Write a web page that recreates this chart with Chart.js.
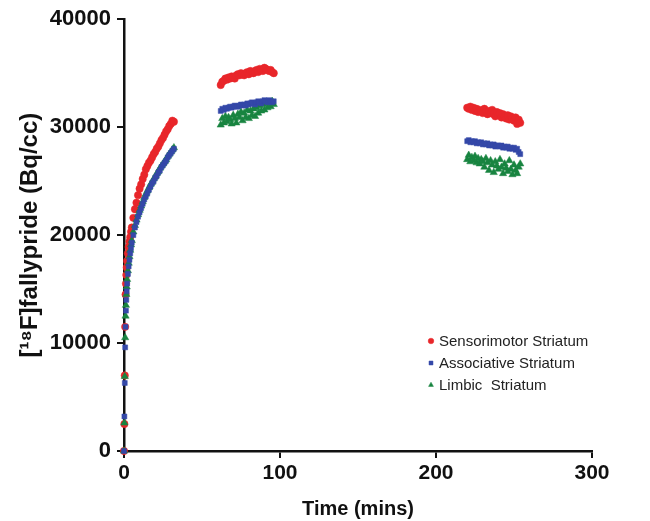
<!DOCTYPE html>
<html><head><meta charset="utf-8">
<script src="https://cdn.jsdelivr.net/npm/chart.js@4/dist/chart.umd.min.js"></script>
<style>html,body{margin:0;padding:0;background:#fff;}#wrap{width:650px;height:521px;}</style>
</head><body><div id="wrap"><canvas id="c" width="650" height="521"></canvas></div>
<script>
// ---- data (time in minutes, activity in Bq/cc) ----
const times = [
  0, 0.25, 0.5, 0.75, 1.0, 1.25, 1.5, 1.75, 2.0, 2.5, 3.0, 3.5, 4.0, 4.5, 5.0,
  6, 7, 8, 9, 10, 11, 12, 13, 14, 15, 16, 17, 18, 19, 20, 21, 22, 23, 24, 25, 26, 27, 28, 29, 30, 31, 32,
  62, 63, 64, 65, 66, 67, 68, 69, 70, 71, 72, 73, 74, 75, 76, 77, 78, 79, 80, 81, 82, 83, 84, 85, 86, 87, 88, 89, 90, 91, 92, 93, 94, 95, 96,
  220, 221, 222, 223, 224, 225, 226, 227, 228, 229, 230, 231, 232, 233, 234, 235, 236, 237, 238, 239, 240, 241, 242, 243, 244, 245, 246, 247, 248, 249, 250, 251, 252, 253, 254
];
const sensorimotor = [
  0, 2500, 7000, 11500, 14500, 15500, 16300, 17000, 17600, 18300, 18900, 19400, 19800, 20300, 20700,
  21600, 22400, 23000, 23700, 24300, 24700, 25200, 25600, 26100, 26400, 26700, 26900, 27200, 27500, 27700, 28000, 28200, 28500, 28800, 29000, 29300, 29600, 29800, 30100, 30300, 30600, 30500,
  33900, 34200, 34300, 34500, 34400, 34600, 34500, 34700, 34600, 34500, 34800, 34900, 34800, 35000, 34900, 34800, 35000, 35100, 34900, 35200, 35100, 35000, 35200, 35300, 35100, 35400, 35300, 35200, 35500, 35400, 35300, 35200, 35300, 35100, 35000,
  31800, 31700, 31900, 31600, 31800, 31500, 31700, 31400, 31600, 31500, 31300, 31700, 31400, 31200, 31500, 31300, 31600, 31200, 31000, 31400, 31100, 31300, 30900, 31200, 31000, 30800, 31100, 30700, 31000, 30800, 30600, 30900, 30300, 30700, 30400
];
const associative = [
  0, 3200, 6300, 9600, 11500, 13000, 14000, 14800, 15500, 16400, 17100, 17700, 18300, 18800, 19300,
  20000, 20700, 21200, 21700, 22100, 22500, 22900, 23300, 23600, 23900, 24200, 24500, 24800, 25000, 25300, 25500, 25800, 26000, 26300, 26500, 26700, 26900, 27200, 27400, 27600, 27800, 28000,
  31500, 31700, 31600, 31800, 31700, 31800, 31900, 31800, 31900, 32000, 31900, 31900, 32000, 32100, 32000, 32100, 32000, 32200, 32100, 32200, 32300, 32200, 32100, 32300, 32400, 32300, 32200, 32400, 32500, 32400, 32300, 32500, 32400, 32300, 32400,
  28700, 28800, 28600, 28700, 28600, 28700, 28500, 28600, 28500, 28600, 28400, 28500, 28400, 28500, 28300, 28400, 28300, 28400, 28200, 28300, 28300, 28200, 28300, 28100, 28200, 28100, 28200, 28000, 28100, 28000, 28100, 27900, 28000, 27700, 27500
];
const limbic = [
  0, 2600, 6900, 10500, 12500, 13500, 14500, 15200, 15900, 16700, 17400, 18000, 18600, 19100, 19500,
  20300, 20900, 21400, 21900, 22300, 22700, 23100, 23500, 23800, 24100, 24400, 24700, 24900, 25200, 25400, 25700, 25900, 26200, 26400, 26600, 26800, 27000, 27300, 27500, 27700, 27900, 28100,
  30200, 30800, 30400, 31000, 30500, 30900, 30700, 30300, 31100, 30800, 30400, 31200, 30900, 31400, 30600, 31300, 30900, 31600, 30800, 31500, 31100, 31700, 31000, 31800, 31300, 32000, 31500, 32100, 31600, 32200, 31800, 32300, 31900, 32400, 32100,
  27000, 27400, 26800, 27200, 26900, 27300, 26700, 27100, 26600, 27000, 26800, 26300, 27100, 26700, 26000, 26900, 26500, 25800, 26800, 26400, 26100, 27000, 26300, 25700, 26600, 26200, 25900, 26900, 26100, 25600, 26500, 26000, 25700, 26300, 26600
];
const seriesLabels = ['Sensorimotor Striatum', 'Associative Striatum', 'Limbic  Striatum'];
const xTickValues = [0, 100, 200, 300];
const yTickValues = [0, 10000, 20000, 30000, 40000];

const colors = ['rgb(232,38,42)', 'rgb(52,72,168)', 'rgb(24,132,64)'];
const styles = ['circle', 'rect', 'triangle'];
const radii = [3.7, 3.5, 4.2];
const allSeries = [sensorimotor, associative, limbic];

const FONT = '"Liberation Sans", Arial, Helvetica, sans-serif';

const datasets = allSeries.map((vals, k) => ({
  label: seriesLabels[k],
  data: times.map((t, i) => ({ x: t, y: vals[i] })),
  pointStyle: styles[k],
  pointRadius: radii[k],
  pointBackgroundColor: colors[k],
  pointBorderColor: colors[k],
  pointBorderWidth: 0.5,
  showLine: false,
  clip: false
}));
const ordered = [datasets[1], datasets[2], datasets[0]];

const legendPlugin = {
  id: 'insideLegend',
  afterDraw(chart) {
    const ctx = chart.ctx;
    const x0 = 431, y0 = 341, step = 22;
    ctx.save();
    ctx.font = '15px ' + FONT;
    ctx.textBaseline = 'middle';
    seriesLabels.forEach((lab, k) => {
      const d = chart.data.datasets.find(ds => ds.label === lab);
      const y = y0 + k * step;
      ctx.fillStyle = d.pointBackgroundColor;
      ctx.strokeStyle = d.pointBorderColor;
      ctx.lineWidth = 0.5;
      Chart.helpers.drawPoint(ctx, { pointStyle: d.pointStyle, radius: 2.8, borderWidth: 0.5, rotation: 0 }, x0, y);
      ctx.fillStyle = '#222';
      ctx.fillText(lab, x0 + 8, y + 1);
    });
    ctx.restore();
  }
};

new Chart(document.getElementById('c'), {
  type: 'scatter',
  data: { datasets: ordered },
  options: {
    responsive: false,
    devicePixelRatio: 1,
    animation: false,
    events: [],
    layout: { padding: { top: 18, right: 58, bottom: 0, left: 0 } },
    plugins: { legend: { display: false }, tooltip: { enabled: false } },
    scales: {
      x: {
        type: 'linear', min: 0, max: 300,
        afterBuildTicks(s) { s.ticks = xTickValues.map(v => ({ value: v })); },
        afterFit(s) { s.height = 70; },
        ticks: { color: '#111', font: { family: FONT, size: 21, weight: 'bold' }, padding: 3, callback: v => String(v) },
        grid: { drawOnChartArea: false, drawTicks: true, tickLength: 7, color: '#111', lineWidth: 2 },
        border: { display: true, color: '#111', width: 2.5 },
        title: { display: true, text: 'Time (mins)', color: '#111', font: { family: FONT, size: 20, weight: 'bold' }, padding: { top: 1, bottom: 0 } }
      },
      y: {
        type: 'linear', min: 0, max: 40000,
        afterBuildTicks(s) { s.ticks = yTickValues.map(v => ({ value: v })); },
        afterFit(s) { s.width = 124; },
        ticks: { color: '#111', font: { family: FONT, size: 22, weight: 'bold' }, padding: 6, callback: v => String(v) },
        grid: { drawOnChartArea: false, drawTicks: true, tickLength: 7, color: '#111', lineWidth: 2 },
        border: { display: true, color: '#111', width: 2.5 },
        title: { display: true, text: '[¹⁸F]fallypride (Bq/cc)', color: '#111', font: { family: FONT, size: 24, weight: 'bold' }, padding: { top: 16, bottom: 0 } }
      }
    }
  },
  plugins: [legendPlugin]
});
</script>
</body></html>
